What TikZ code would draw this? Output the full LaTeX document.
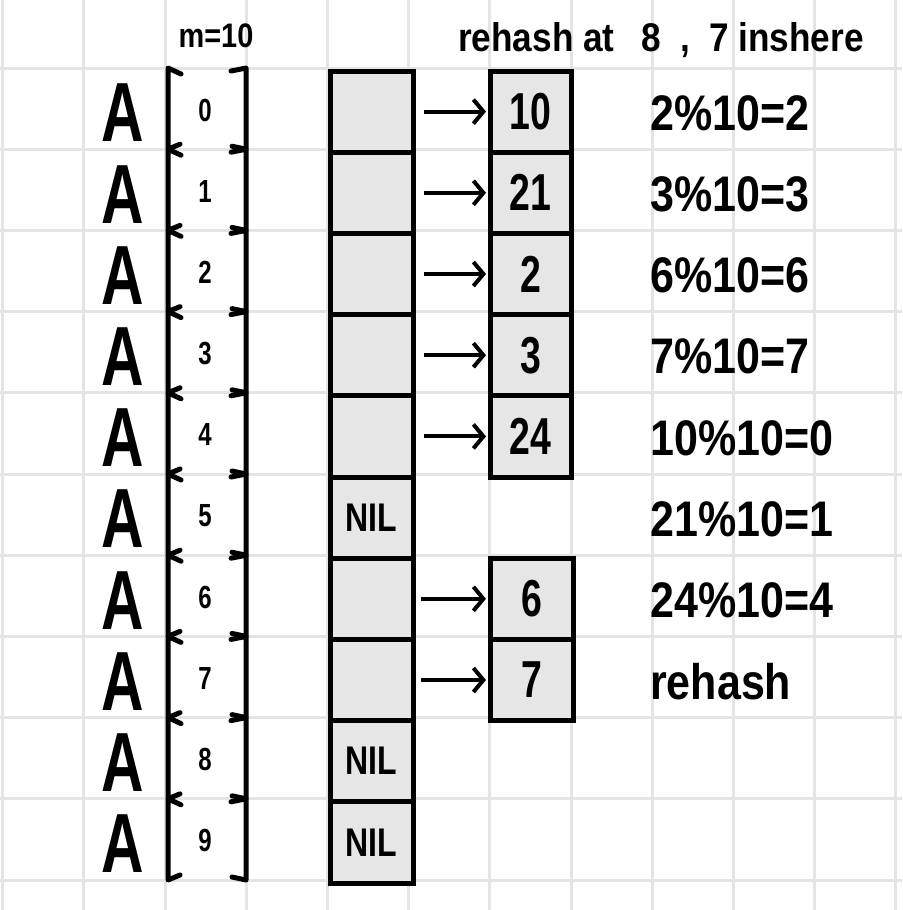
\documentclass[tikz,border=0pt]{standalone}
\usepackage{fontspec}
\usepackage{graphicx}
\setmainfont{Liberation Sans}
\usetikzlibrary{arrows.meta}
\definecolor{gridc}{HTML}{E4E4E4}
\definecolor{cellc}{HTML}{E6E6E6}
\newcommand{\nrw}[2]{\scalebox{#1}[1]{#2}}
\begin{document}
\begin{tikzpicture}[x=1pt,y=-1pt,
  gridline/.style={gridc,line width=3pt},
  cell/.style={draw=black,fill=cellc,line width=5pt,minimum width=83pt,minimum height=81.2pt,inner sep=0pt,outer sep=0pt},
  chain/.style={cell,minimum width=81pt,font=\fontsize{52}{52}\selectfont},
  ptr/.style={line width=4pt,shorten >=4pt,-{Straight Barb[length=10pt,width=24pt]}},
  brk/.style={line width=5pt,line cap=round,line join=round},
  bigA/.style={font=\fontsize{84}{84}\selectfont\bfseries,inner sep=0pt},
  idx/.style={font=\fontsize{32}{32}\selectfont\bfseries,inner sep=0pt},
  formula/.style={font=\fontsize{50}{50}\selectfont\bfseries,inner sep=0pt,anchor=west},
  nil/.style={font=\fontsize{40}{40}\selectfont\bfseries}
]
\fill[white] (0,0) rectangle (902,910);
\useasboundingbox (0,0) rectangle (902,910);
% grid
\foreach \i in {0,...,11} \draw[gridline] ({2.7+81.2*\i},0) -- ({2.7+81.2*\i},910);
\foreach \j in {0,...,10} \draw[gridline] (0,{68+81.2*\j}) -- (902,{68+81.2*\j});

% left labels, brackets, indices
\foreach \i in {0,...,9} {
  \pgfmathsetmacro{\tp}{68+81.2*\i}
  \pgfmathsetmacro{\bt}{\tp+81.2}
  \pgfmathsetmacro{\cy}{\tp+42}
  \node[bigA] (a\i) at (123,{\cy+3}) {\nrw{0.7}{A}};
  \node[idx] (ix\i) at (205,\cy) {\nrw{0.75}{\i}};
  \draw[brk] (181,{\tp+6}) -- (168,\tp) -- (168,\bt) -- (180,{\bt-5});
  \draw[brk] (231,{\tp+3}) -- (246,\tp) -- (246,\bt) -- (232,{\bt-3});
}
\node[font=\fontsize{34}{34}\selectfont\bfseries] (m) at (216,36) {\nrw{0.85}{m=10}};

% main table
\foreach \i/\t in {0/,1/,2/,3/,4/,5/NIL,6/,7/,8/NIL,9/NIL} {
  \node[cell,nil] (t\i) at (371.5,{71+81.2*\i+40.6}) {\nrw{0.8}{\t}};
}

% chains
\foreach \i/\v in {0/10,1/21,2/2,3/3,4/24} {
  \node[chain] (c\i) at (530.5,{71+81.2*\i+40.6}) {\bfseries\nrw{0.72}{\v}};
  \draw[ptr] ([xshift=11pt]t\i.east) -- (c\i.west);
}
\foreach \i/\v in {6/6,7/7} {
  \node[chain,minimum width=83pt] (c\i) at (531.5,{71+81.2*\i+40.6}) {\bfseries\nrw{0.72}{\v}};
  \draw[ptr] ([xshift=8pt]t\i.east) -- (c\i.west);
}

% heading
\node[font=\fontsize{40}{40}\selectfont\bfseries,inner sep=0pt,anchor=west] (head) at (458,40)
  {\nrw{0.88}{rehash at\hspace{30pt}8\hspace{22pt},\hspace{22pt}7 inshere}};

% formulas
\foreach \i/\f in {0/2\%10=2,1/3\%10=3,2/6\%10=6,3/7\%10=7,4/10\%10=0,5/21\%10=1,6/24\%10=4,7/rehash} {
  \node[formula] (f\i) at (650,{71+81.2*\i+42}) {\nrw{0.86}{\f}};
}
\end{tikzpicture}
\end{document}
